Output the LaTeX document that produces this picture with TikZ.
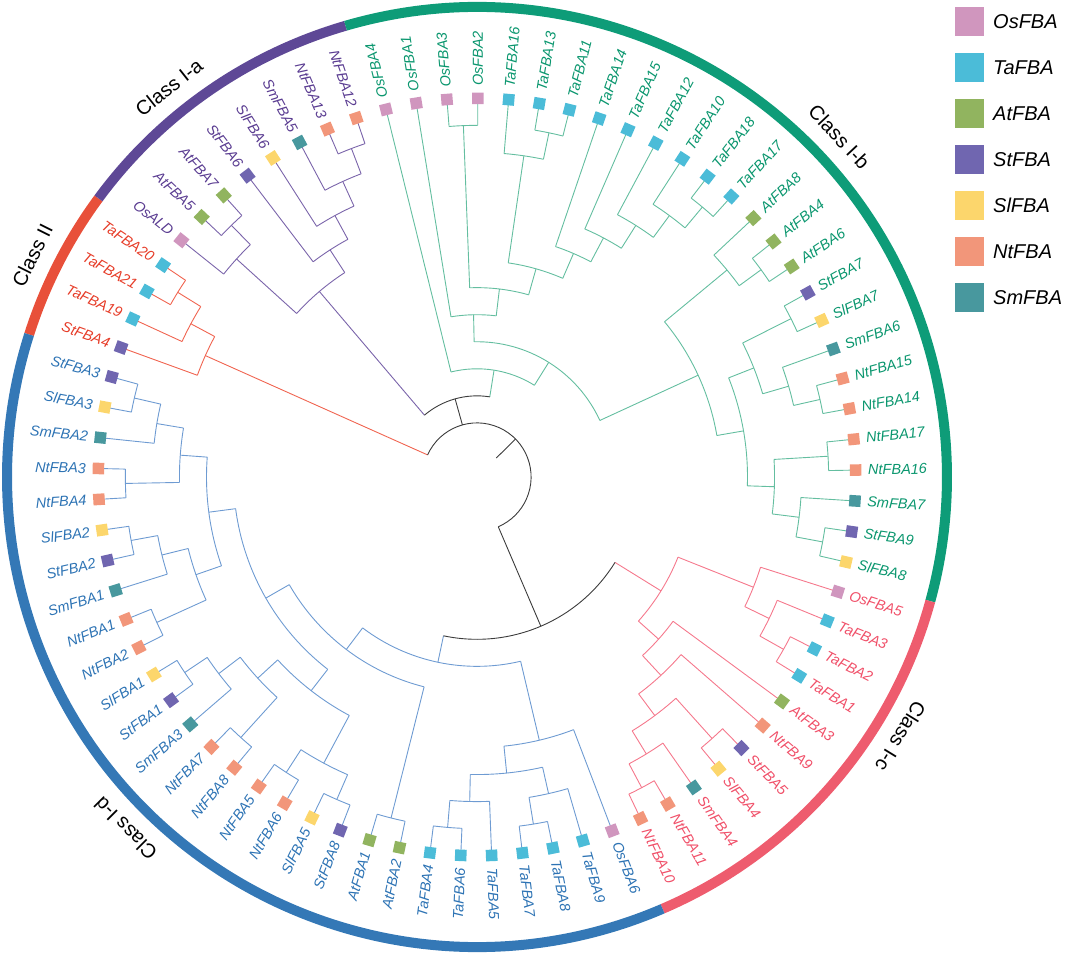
\documentclass[tikz,border=0pt]{standalone}
\usepackage{fontspec}
\setmainfont{Liberation Sans}
\usetikzlibrary{positioning}
\pgfdeclarelayer{background}
\pgfsetlayers{background,main}
% species colours
\definecolor{osc}{RGB}{208,150,190}
\definecolor{tac}{RGB}{75,188,216}
\definecolor{atc}{RGB}{145,180,95}
\definecolor{stc}{RGB}{112,102,176}
\definecolor{slc}{RGB}{252,214,108}
\definecolor{ntc}{RGB}{242,150,122}
\definecolor{smc}{RGB}{72,152,158}
% class colours: ring, branches, labels
\definecolor{ringIa}{RGB}{94,72,150}
\definecolor{ringIb}{RGB}{14,156,120}
\definecolor{ringIc}{RGB}{238,92,110}
\definecolor{ringId}{RGB}{52,120,182}
\definecolor{ringII}{RGB}{232,80,58}
\definecolor{brIa}{RGB}{122,100,170}
\definecolor{brIb}{RGB}{100,190,160}
\definecolor{brIc}{RGB}{245,120,140}
\definecolor{brId}{RGB}{110,155,210}
\definecolor{brII}{RGB}{240,100,80}
\definecolor{brroot}{RGB}{60,60,60}
\definecolor{txIa}{RGB}{90,60,145}
\definecolor{txIb}{RGB}{10,150,110}
\definecolor{txIc}{RGB}{240,80,105}
\definecolor{txId}{RGB}{45,115,180}
\definecolor{txII}{RGB}{230,60,40}
\tikzset{
  branch/.style={line width=0.9pt},
  ringpart/.style={line width=10pt},
  marker/.style={rectangle, minimum size=11.5pt, inner sep=0pt},
  leaflabel/.style={font=\itshape\fontsize{14.5}{15}\selectfont, inner sep=0pt},
  classlabel/.style={font=\fontsize{20}{21}\selectfont, inner sep=0pt},
  legendbox/.style={rectangle, minimum size=29pt, inner sep=0pt},
  legendlabel/.style={font=\itshape\fontsize{20}{22}\selectfont, anchor=west, inner sep=0pt}
}
\makeatletter
\newcommand\fbastep{27.05}
% leaf: name, position, species, class
\newcommand\leaf[4]{%
  \expandafter\xdef\csname fbak@#1\endcsname{#2}%
  \expandafter\xdef\csname fbah@#1\endcsname{0}%
  \expandafter\xdef\csname fbac@#1\endcsname{br#4}%
  \pgfmathsetmacro\leafA{160.01-4.67532*#2}%
  \coordinate (#1) at (\leafA:378.7pt);
  \node[marker, fill=#3c, rotate=\leafA] (#1-box) at (#1) {};
  \pgfmathtruncatemacro\leafflip{(\leafA>106 || \leafA<-91) ? 1 : 0}%
  \ifnum\leafflip=1
    \node[leaflabel, text=tx#4, anchor=east, rotate=\leafA+180] (#1-text) at (\leafA:391pt) {#1};
  \else
    \node[leaflabel, text=tx#4, anchor=west, rotate=\leafA] (#1-text) at (\leafA:391pt) {#1};
  \fi
}
% clade: name, colour, first child, second child
\newcommand\clade[4]{%
  \pgfmathsetmacro\cladeKa{\csname fbak@#3\endcsname}%
  \pgfmathsetmacro\cladeKb{\csname fbak@#4\endcsname}%
  \pgfmathsetmacro\cladeK{(\cladeKa+\cladeKb)/2}%
  \pgfmathtruncatemacro\cladeH{1+max(\csname fbah@#3\endcsname,\csname fbah@#4\endcsname)}%
  \pgfmathsetmacro\cladeR{\fbastep*(14-\cladeH)}%
  \pgfmathsetmacro\cladeA{160.01-4.67532*\cladeKa}%
  \pgfmathsetmacro\cladeB{160.01-4.67532*\cladeKb}%
  \pgfmathsetmacro\cladeM{160.01-4.67532*\cladeK}%
  \edef\cladeCa{\csname fbac@#3\endcsname}%
  \edef\cladeCb{\csname fbac@#4\endcsname}%
  \expandafter\xdef\csname fbak@#1\endcsname{\cladeK}%
  \expandafter\xdef\csname fbah@#1\endcsname{\cladeH}%
  \expandafter\xdef\csname fbac@#1\endcsname{#2}%
  \coordinate (#1) at (\cladeM:\cladeR pt);
  \begin{pgfonlayer}{background}
    \draw[branch, draw=\cladeCa] (#3) -- (\cladeA:\cladeR pt);
    \draw[branch, draw=\cladeCb] (#4) -- (\cladeB:\cladeR pt);
    \draw[branch, draw=#2] (\cladeA:\cladeR pt) arc[start angle=\cladeA, end angle=\cladeB, radius=\cladeR pt];
  \end{pgfonlayer}
}
% root with three children
\newcommand\cladethree[5]{%
  \pgfmathsetmacro\cladeKa{\csname fbak@#3\endcsname}%
  \pgfmathsetmacro\cladeKm{\csname fbak@#4\endcsname}%
  \pgfmathsetmacro\cladeKb{\csname fbak@#5\endcsname}%
  \pgfmathsetmacro\cladeK{(\cladeKa+\cladeKb)/2}%
  \pgfmathtruncatemacro\cladeH{1+max(\csname fbah@#3\endcsname,\csname fbah@#4\endcsname,\csname fbah@#5\endcsname)}%
  \pgfmathsetmacro\cladeR{\fbastep*(14-\cladeH)}%
  \pgfmathsetmacro\cladeA{160.01-4.67532*\cladeKa}%
  \pgfmathsetmacro\cladeC{160.01-4.67532*\cladeKm}%
  \pgfmathsetmacro\cladeB{160.01-4.67532*\cladeKb}%
  \pgfmathsetmacro\cladeM{160.01-4.67532*\cladeK}%
  \edef\cladeCa{\csname fbac@#3\endcsname}%
  \edef\cladeCm{\csname fbac@#4\endcsname}%
  \edef\cladeCb{\csname fbac@#5\endcsname}%
  \coordinate (#1) at (\cladeM:\cladeR pt);
  \coordinate (#1-stub) at (\cladeM:\fbastep pt);
  \begin{pgfonlayer}{background}
    \draw[branch, draw=\cladeCa] (#3) -- (\cladeA:\cladeR pt);
    \draw[branch, draw=\cladeCm] (#4) -- (\cladeC:\cladeR pt);
    \draw[branch, draw=\cladeCb] (#5) -- (\cladeB:\cladeR pt);
    \draw[branch, draw=#2] (\cladeA:\cladeR pt) arc[start angle=\cladeA, end angle=\cladeB, radius=\cladeR pt];
    \draw[branch, draw=#2] (#1-stub) -- (#1);
  \end{pgfonlayer}
}
% ring segment: colour, first leaf, last leaf
\newcommand\ringseg[3]{%
  \pgfmathsetmacro\ringA{160.01-4.67532*(#2-0.5)}%
  \pgfmathsetmacro\ringB{160.01-4.67532*(#3+0.5)}%
  \draw[ringpart, draw=#1] (\ringA:470pt) arc[start angle=\ringA, end angle=\ringB, radius=470pt];
}
\makeatother

\begin{document}
\begin{tikzpicture}
  \useasboundingbox (-477pt,-478pt) rectangle (588pt,477pt);
  % leaves, class II
  \leaf{StFBA4}{0}{st}{II}
  \leaf{TaFBA19}{1}{ta}{II}
  \leaf{TaFBA21}{2}{ta}{II}
  \leaf{TaFBA20}{3}{ta}{II}
  % class I-a
  \leaf{OsALD}{4}{os}{Ia}
  \leaf{AtFBA5}{5}{at}{Ia}
  \leaf{AtFBA7}{6}{at}{Ia}
  \leaf{StFBA6}{7}{st}{Ia}
  \leaf{SlFBA6}{8}{sl}{Ia}
  \leaf{SmFBA5}{9}{sm}{Ia}
  \leaf{NtFBA13}{10}{nt}{Ia}
  \leaf{NtFBA12}{11}{nt}{Ia}
  % class I-b
  \leaf{OsFBA4}{12}{os}{Ib}
  \leaf{OsFBA1}{13}{os}{Ib}
  \leaf{OsFBA3}{14}{os}{Ib}
  \leaf{OsFBA2}{15}{os}{Ib}
  \leaf{TaFBA16}{16}{ta}{Ib}
  \leaf{TaFBA13}{17}{ta}{Ib}
  \leaf{TaFBA11}{18}{ta}{Ib}
  \leaf{TaFBA14}{19}{ta}{Ib}
  \leaf{TaFBA15}{20}{ta}{Ib}
  \leaf{TaFBA12}{21}{ta}{Ib}
  \leaf{TaFBA10}{22}{ta}{Ib}
  \leaf{TaFBA18}{23}{ta}{Ib}
  \leaf{TaFBA17}{24}{ta}{Ib}
  \leaf{AtFBA8}{25}{at}{Ib}
  \leaf{AtFBA4}{26}{at}{Ib}
  \leaf{AtFBA6}{27}{at}{Ib}
  \leaf{StFBA7}{28}{st}{Ib}
  \leaf{SlFBA7}{29}{sl}{Ib}
  \leaf{SmFBA6}{30}{sm}{Ib}
  \leaf{NtFBA15}{31}{nt}{Ib}
  \leaf{NtFBA14}{32}{nt}{Ib}
  \leaf{NtFBA17}{33}{nt}{Ib}
  \leaf{NtFBA16}{34}{nt}{Ib}
  \leaf{SmFBA7}{35}{sm}{Ib}
  \leaf{StFBA9}{36}{st}{Ib}
  \leaf{SlFBA8}{37}{sl}{Ib}
  % class I-c
  \leaf{OsFBA5}{38}{os}{Ic}
  \leaf{TaFBA3}{39}{ta}{Ic}
  \leaf{TaFBA2}{40}{ta}{Ic}
  \leaf{TaFBA1}{41}{ta}{Ic}
  \leaf{AtFBA3}{42}{at}{Ic}
  \leaf{NtFBA9}{43}{nt}{Ic}
  \leaf{StFBA5}{44}{st}{Ic}
  \leaf{SlFBA4}{45}{sl}{Ic}
  \leaf{SmFBA4}{46}{sm}{Ic}
  \leaf{NtFBA11}{47}{nt}{Ic}
  \leaf{NtFBA10}{48}{nt}{Ic}
  % class I-d
  \leaf{OsFBA6}{49}{os}{Id}
  \leaf{TaFBA9}{50}{ta}{Id}
  \leaf{TaFBA8}{51}{ta}{Id}
  \leaf{TaFBA7}{52}{ta}{Id}
  \leaf{TaFBA5}{53}{ta}{Id}
  \leaf{TaFBA6}{54}{ta}{Id}
  \leaf{TaFBA4}{55}{ta}{Id}
  \leaf{AtFBA2}{56}{at}{Id}
  \leaf{AtFBA1}{57}{at}{Id}
  \leaf{StFBA8}{58}{st}{Id}
  \leaf{SlFBA5}{59}{sl}{Id}
  \leaf{NtFBA6}{60}{nt}{Id}
  \leaf{NtFBA5}{61}{nt}{Id}
  \leaf{NtFBA8}{62}{nt}{Id}
  \leaf{NtFBA7}{63}{nt}{Id}
  \leaf{SmFBA3}{64}{sm}{Id}
  \leaf{StFBA1}{65}{st}{Id}
  \leaf{SlFBA1}{66}{sl}{Id}
  \leaf{NtFBA2}{67}{nt}{Id}
  \leaf{NtFBA1}{68}{nt}{Id}
  \leaf{SmFBA1}{69}{sm}{Id}
  \leaf{StFBA2}{70}{st}{Id}
  \leaf{SlFBA2}{71}{sl}{Id}
  \leaf{NtFBA4}{72}{nt}{Id}
  \leaf{NtFBA3}{73}{nt}{Id}
  \leaf{SmFBA2}{74}{sm}{Id}
  \leaf{SlFBA3}{75}{sl}{Id}
  \leaf{StFBA3}{76}{st}{Id}

  % clades, class II
  \clade{IIa}{brII}{TaFBA21}{TaFBA20}
  \clade{IIb}{brII}{TaFBA19}{IIa}
  \clade{II}{brII}{StFBA4}{IIb}
  % class I-a
  \clade{IaAt}{brIa}{AtFBA5}{AtFBA7}
  \clade{IaOs}{brIa}{OsALD}{IaAt}
  \clade{IaNt}{brIa}{NtFBA13}{NtFBA12}
  \clade{IaSm}{brIa}{SmFBA5}{IaNt}
  \clade{IaSl}{brIa}{SlFBA6}{IaSm}
  \clade{IaSt}{brIa}{StFBA6}{IaSl}
  \clade{Ia}{brIa}{IaOs}{IaSt}
  % class I-b
  \clade{IbOs}{brIb}{OsFBA3}{OsFBA2}
  \clade{IbTa1}{brIb}{TaFBA13}{TaFBA11}
  \clade{IbTa2}{brIb}{TaFBA16}{IbTa1}
  \clade{IbTa3}{brIb}{TaFBA18}{TaFBA17}
  \clade{IbTa4}{brIb}{TaFBA10}{IbTa3}
  \clade{IbTa5}{brIb}{TaFBA12}{IbTa4}
  \clade{IbTa6}{brIb}{TaFBA15}{IbTa5}
  \clade{IbTa7}{brIb}{TaFBA14}{IbTa6}
  \clade{IbW}{brIb}{IbTa2}{IbTa7}
  \clade{IbZ}{brIb}{IbOs}{IbW}
  \clade{IbP}{brIb}{OsFBA1}{IbZ}
  \clade{IbAt1}{brIb}{AtFBA4}{AtFBA6}
  \clade{IbAt}{brIb}{AtFBA8}{IbAt1}
  \clade{IbSo1}{brIb}{StFBA7}{SlFBA7}
  \clade{IbNt1}{brIb}{NtFBA15}{NtFBA14}
  \clade{IbSm1}{brIb}{SmFBA6}{IbNt1}
  \clade{IbG1}{brIb}{IbSo1}{IbSm1}
  \clade{IbNt2}{brIb}{NtFBA17}{NtFBA16}
  \clade{IbSo2}{brIb}{StFBA9}{SlFBA8}
  \clade{IbSm2}{brIb}{SmFBA7}{IbSo2}
  \clade{IbG2}{brIb}{IbNt2}{IbSm2}
  \clade{IbGG}{brIb}{IbG1}{IbG2}
  \clade{IbV}{brIb}{IbAt}{IbGG}
  \clade{IbR}{brIb}{IbP}{IbV}
  \clade{Ib}{brIb}{OsFBA4}{IbR}
  \clade{AB}{brroot}{Ia}{Ib}
  % class I-c
  \clade{IcTa1}{brIc}{TaFBA2}{TaFBA1}
  \clade{IcTa}{brIc}{TaFBA3}{IcTa1}
  \clade{IcGr}{brIc}{OsFBA5}{IcTa}
  \clade{IcSo}{brIc}{StFBA5}{SlFBA4}
  \clade{IcNt}{brIc}{NtFBA11}{NtFBA10}
  \clade{IcSm}{brIc}{SmFBA4}{IcNt}
  \clade{IcX2}{brIc}{IcSo}{IcSm}
  \clade{IcX1}{brIc}{NtFBA9}{IcX2}
  \clade{IcAt}{brIc}{AtFBA3}{IcX1}
  \clade{Ic}{brIc}{IcGr}{IcAt}
  % class I-d
  \clade{IdTa1}{brId}{TaFBA8}{TaFBA7}
  \clade{IdTa2}{brId}{TaFBA9}{IdTa1}
  \clade{IdTa3}{brId}{TaFBA6}{TaFBA4}
  \clade{IdTa4}{brId}{TaFBA5}{IdTa3}
  \clade{IdTa}{brId}{IdTa2}{IdTa4}
  \clade{IdGr}{brId}{OsFBA6}{IdTa}
  \clade{IdAt}{brId}{AtFBA2}{AtFBA1}
  \clade{IdSo1}{brId}{StFBA8}{SlFBA5}
  \clade{IdNt1}{brId}{NtFBA6}{NtFBA5}
  \clade{IdC}{brId}{IdSo1}{IdNt1}
  \clade{IdNt2}{brId}{NtFBA8}{NtFBA7}
  \clade{IdSo2}{brId}{StFBA1}{SlFBA1}
  \clade{IdSm2}{brId}{SmFBA3}{IdSo2}
  \clade{IdB}{brId}{IdNt2}{IdSm2}
  \clade{IdCB}{brId}{IdC}{IdB}
  \clade{IdNt3}{brId}{NtFBA2}{NtFBA1}
  \clade{IdSo3}{brId}{StFBA2}{SlFBA2}
  \clade{IdSm3}{brId}{SmFBA1}{IdSo3}
  \clade{IdD2}{brId}{IdNt3}{IdSm3}
  \clade{IdNt4}{brId}{NtFBA4}{NtFBA3}
  \clade{IdSo4}{brId}{SlFBA3}{StFBA3}
  \clade{IdSm4}{brId}{SmFBA2}{IdSo4}
  \clade{IdD1}{brId}{IdNt4}{IdSm4}
  \clade{IdD}{brId}{IdD2}{IdD1}
  \clade{IdM}{brId}{IdCB}{IdD}
  \clade{IdL}{brId}{IdAt}{IdM}
  \clade{Id}{brId}{IdGr}{IdL}
  \clade{CD}{brroot}{Ic}{Id}
  % root
  \cladethree{root}{brroot}{II}{AB}{CD}

  % outer ring
  \ringseg{ringII}{0}{3}
  \ringseg{ringIa}{4}{11}
  \ringseg{ringIb}{12}{37}
  \ringseg{ringIc}{38}{48}
  \ringseg{ringId}{49}{76}
  \node[classlabel, rotate=63.5] (cls-II) at (153.5:497pt) {Class II};
  \node[classlabel, rotate=38.3] (cls-Ia) at (128.3:497pt) {Class I-a};
  \node[classlabel, rotate=-46.8] (cls-Ib) at (43.2:497pt) {Class I-b};
  \node[classlabel, rotate=-121.5] (cls-Ic) at (-31.5:497pt) {Class I-c};
  \node[classlabel, rotate=135] (cls-Id) at (225:497pt) {Class I-d};

  % legend
  \foreach \sp/\txt [count=\n from 0] in {os/OsFBA, ta/TaFBA, at/AtFBA, st/StFBA, sl/SlFBA, nt/NtFBA, sm/SmFBA} {
    \node[legendbox, fill=\sp c] (key-\sp) at (492.5pt, {(455.5-46*\n)*1pt}) {};
    \node[legendlabel] (key-\sp-text) at (516pt, {(455.5-46*\n)*1pt}) {\txt};
  }
\end{tikzpicture}
\end{document}
